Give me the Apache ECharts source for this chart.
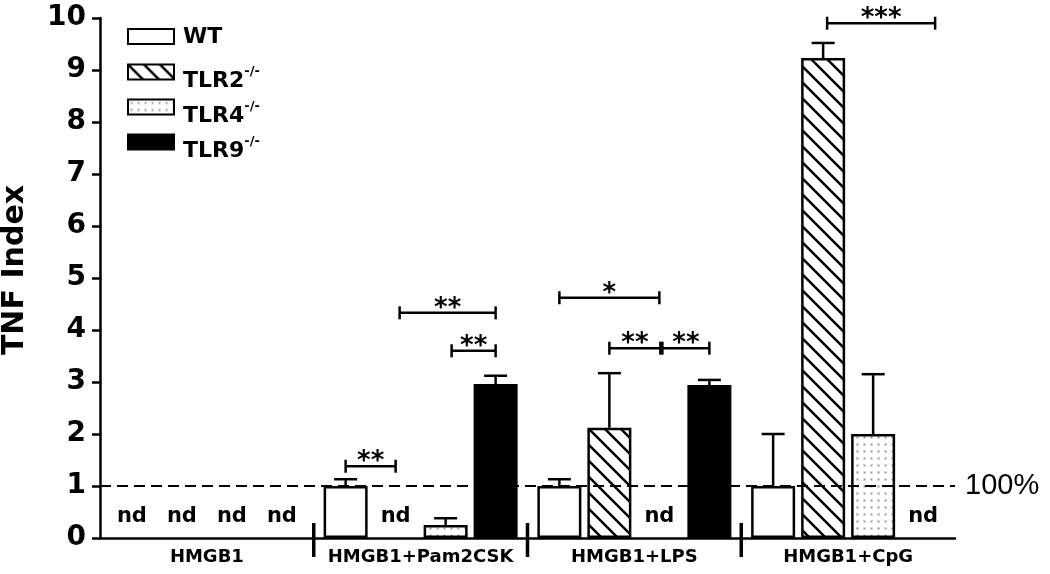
<!DOCTYPE html>
<html>
<head>
<meta charset="utf-8">
<script src="https://cdn.jsdelivr.net/npm/echarts@6/dist/echarts.min.js"></script>
<style>html,body{margin:0;padding:0;background:#fff}#c{width:1050px;height:574px}</style>
</head>
<body>
<div id="c"></div>
<script>
// ---- data ----
const groups = ['HMGB1', 'HMGB1+Pam2CSK', 'HMGB1+LPS', 'HMGB1+CpG'];
const strains = ['WT', 'TLR2', 'TLR4', 'TLR9'];
const strainSup = ['', '-/-', '-/-', '-/-'];
// null = not detected ("nd")
const wtMean   = [null, 1.00, 1.00, 1.00];
const wtSem    = [null, 0.13, 0.13, 1.00];
const tlr2Mean = [null, null, 2.12, 9.23];
const tlr2Sem  = [null, null, 1.05, 0.29];
const tlr4Mean = [null, 0.25, null, 2.00];
const tlr4Sem  = [null, 0.13, null, 1.15];
const tlr9Mean = [null, 2.96, 2.94, null];
const tlr9Sem  = [null, 0.16, 0.10, null];
const yTicks = [0, 1, 2, 3, 4, 5, 6, 7, 8, 9, 10];
const referenceLevel = 1;
const referenceLabel = '100%';
// significance brackets: [group, fromSlot, toSlot, y, label]
const sigBrackets = [
  [1, 0, 1, 1.38, '**'],
  [1, 1.08, 3.0, 4.33, '**'],
  [1, 2.12, 3.0, 3.6, '**'],
  [2, 0, 2, 4.62, '*'],
  [2, 1, 2.02, 3.65, '**'],
  [2, 2.06, 3.0, 3.65, '**'],
  [3, 1.08, 3.24, 9.9, '***']
];

const means = [wtMean, tlr2Mean, tlr4Mean, tlr9Mean];
const sems = [wtSem, tlr2Sem, tlr4Sem, tlr9Sem];

// ---- layout ----
const legendTops = [21.5, 58.5, 93.5, 128.5];

// ---- patterns ----
function hatchPattern() {
  const c = document.createElement('canvas'); c.width = 16; c.height = 16;
  const g = c.getContext('2d');
  g.fillStyle = '#fff'; g.fillRect(0, 0, 16, 16);
  g.strokeStyle = '#000'; g.lineWidth = 2.5;
  for (const k of [-16, 0, 16]) { g.beginPath(); g.moveTo(k - 2, -2); g.lineTo(k + 18, 18); g.stroke(); }
  return c;
}
function dotPattern() {
  const c = document.createElement('canvas'); c.width = 7; c.height = 7;
  const g = c.getContext('2d');
  g.fillStyle = '#fff'; g.fillRect(0, 0, 7, 7);
  g.fillStyle = '#999999'; g.fillRect(2.5, 2.5, 2, 2);
  return c;
}
const fills = ['#ffffff', { image: hatchPattern(), repeat: 'repeat' }, { image: dotPattern(), repeat: 'repeat' }, '#000000'];

const BAR_W = 44, GAP = 6, SLOT = BAR_W + GAP;
const FONT = 'DejaVu Sans';

const chart = echarts.init(document.getElementById('c'), null, { renderer: 'canvas' });

const barSeries = strains.map((s, si) => {
  const data = means[si].map(v => v === null
    ? { value: 0, itemStyle: { borderWidth: 0 }, label: { show: true, formatter: 'nd' } }
    : { value: v });
  const ser = {
    name: s, type: 'bar', barWidth: BAR_W, barGap: (GAP / BAR_W * 100) + '%',
    itemStyle: { color: fills[si], borderColor: '#000', borderWidth: 2.5 },
    label: { show: false, position: 'top', distance: 11, color: '#000', fontFamily: FONT, fontWeight: 'bold', fontSize: 21 },
    emphasis: { disabled: true },
    data: data, z: 2
  };
  if (si === 3) {
    ser.markLine = {
      silent: true, symbol: 'none', z: 6,
      lineStyle: { color: '#000', type: [11, 6], width: 2 },
      label: { show: true, position: 'end', distance: 10, formatter: referenceLabel, color: '#000', fontFamily: 'Liberation Sans', fontSize: 29 },
      data: [{ yAxis: referenceLevel }]
    };
  }
  return ser;
});

const errSeries = strains.map((s, si) => ({
  type: 'custom', z: 4, silent: true,
  data: means[si].map((m, gi) => m === null ? null : [gi, m, sems[si][gi]]).filter(d => d),
  renderItem: (params, api) => {
    const c = api.coord([api.value(0), api.value(1)]);
    const t = api.coord([api.value(0), api.value(1) + api.value(2)]);
    const x = c[0] + (si - 1.5) * SLOT;
    const st = { stroke: '#000', lineWidth: 2.5 };
    return { type: 'group', children: [
      { type: 'line', shape: { x1: x, y1: c[1], x2: x, y2: t[1] }, style: st },
      { type: 'line', shape: { x1: x - 11.5, y1: t[1], x2: x + 11.5, y2: t[1] }, style: st }
    ]};
  }
}));

const sigSeries = {
  type: 'custom', z: 5, silent: true,
  data: sigBrackets.map(b => [b[0], b[1], b[2], b[3], b[4]]),
  renderItem: (params, api) => {
    const b = sigBrackets[params.dataIndex];
    const c = api.coord([b[0], b[3]]);
    const x1 = c[0] + (b[1] - 1.5) * SLOT, x2 = c[0] + (b[2] - 1.5) * SLOT, y = c[1];
    const st = { stroke: '#000', lineWidth: 2.5 };
    return { type: 'group', children: [
      { type: 'line', shape: { x1: x1, y1: y, x2: x2, y2: y }, style: st },
      { type: 'line', shape: { x1: x1, y1: y - 6.5, x2: x1, y2: y + 6.5 }, style: st },
      { type: 'line', shape: { x1: x2, y1: y - 6.5, x2: x2, y2: y + 6.5 }, style: st },
      { type: 'text', style: { text: b[4], x: (x1 + x2) / 2, y: y + 9, align: 'center', verticalAlign: 'bottom',
        fill: '#000', font: 'bold 26px "DejaVu Sans"' } }
    ]};
  }
};

const breakSeries = {
  type: 'custom', z: 5, silent: true,
  data: groups.slice(1).map((g, i) => [i + 1]),
  renderItem: (params, api) => {
    const i = api.value(0);
    const xL = api.coord([i - 1, 0])[0], xR = api.coord([i, 0])[0];
    const x = (xL + xR) / 2, y = api.coord([i, 0])[1];
    return { type: 'line', shape: { x1: x, y1: y - 15, x2: x, y2: y + 19 }, style: { stroke: '#000', lineWidth: 3.5 } };
  }
};

const legends = strains.map((s, i) => ({
  orient: 'vertical', left: 122, top: legendTops[i], padding: 5, icon: 'rect', itemWidth: 46, itemHeight: 15,
  selectedMode: false,
  data: [s],
  formatter: name => {
    const sup = strainSup[strains.indexOf(name)];
    return sup ? '{m|' + name + '}{sup|' + sup + '}' : '{w|' + name + '}';
  },
  textStyle: {
    color: '#000', fontFamily: FONT, fontWeight: 'bold', fontSize: 22, padding: [0, 0, 0, 4],
    rich: {
      m: { fontFamily: FONT, fontWeight: 'bold', fontSize: 22, color: '#000', padding: [18, 0, 0, 0] },
      w: { fontFamily: FONT, fontWeight: 'bold', fontSize: 22, color: '#000', padding: [10, 0, 8, 0] },
      sup: { fontFamily: FONT, fontWeight: 'bold', fontSize: 13, color: '#000', padding: [0, 0, 0, 0] }
    }
  }
}));

chart.setOption({
  animation: false,
  backgroundColor: '#fff',
  grid: { left: 100, right: 95, top: 18, bottom: 36, outerBoundsMode: 'none', containLabel: false },
  legend: legends,
  xAxis: {
    type: 'category', data: groups,
    axisLine: { lineStyle: { color: '#000', width: 2.5 } },
    axisTick: { show: false },
    axisLabel: { interval: 0, color: '#000', fontFamily: FONT, fontWeight: 'bold', fontSize: 18, margin: 10 },
    splitLine: { show: false }
  },
  yAxis: {
    type: 'value', min: yTicks[0], max: yTicks[yTicks.length - 1], interval: 1,
    name: 'TNF Index', nameLocation: 'middle', nameGap: 70, nameRotate: 90,
    nameTextStyle: { color: '#000', fontFamily: FONT, fontWeight: 'bold', fontSize: 30, padding: [0, 0, 0, 16] },
    axisLine: { show: true, lineStyle: { color: '#000', width: 2.5 } },
    axisTick: { show: true, length: 8, lineStyle: { color: '#000', width: 2.5 } },
    axisLabel: { color: '#000', fontFamily: FONT, fontWeight: 'bold', fontSize: 28, margin: 14 },
    splitLine: { show: false }
  },
  series: [...barSeries, ...errSeries, sigSeries, breakSeries]
});
</script>
</body>
</html>
